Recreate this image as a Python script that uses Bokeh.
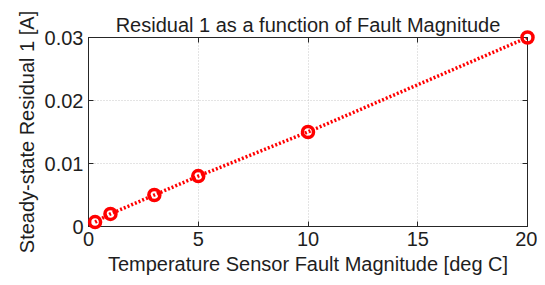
from bokeh.plotting import figure
from bokeh.models import Range1d, FixedTicker, LinearAxis
from bokeh.embed import file_html
from bokeh.resources import INLINE

fault_mag = [0.3, 1, 3, 5, 10, 20]
residual = [0.0007, 0.002, 0.005, 0.008, 0.015, 0.03]
x_ticks = [0, 5, 10, 15, 20]
y_ticks = [0, 0.01, 0.02, 0.03]
y_tick_labels = ["0", "0.01", "0.02", "0.03"]

FONT = "Liberation Sans"
TXT = "#1e1e1e"

p = figure(width=537, height=277, output_backend="svg", toolbar_location=None,
           x_range=Range1d(0, 20), y_range=Range1d(0, 0.03),
           min_border_left=88, min_border_right=10, min_border_top=37, min_border_bottom=51)

p.title.text = "Residual 1 as a function of Fault Magnitude"
p.title.align = "center"
p.title.vertical_align = "top"
p.title.text_font = FONT
p.title.text_font_size = "20px"
p.title.text_font_style = "normal"
p.title.text_color = TXT
p.title.offset = 0
p.title.standoff = 0

p.outline_line_color = "#262626"
p.outline_line_width = 1
p.background_fill_color = "white"
p.border_fill_color = "white"

p.xaxis.ticker = FixedTicker(ticks=x_ticks)
p.yaxis.ticker = FixedTicker(ticks=y_ticks)
p.yaxis.major_label_overrides = {t: l for t, l in zip(y_ticks, y_tick_labels)}
p.xaxis.axis_label = "Temperature Sensor Fault Magnitude [deg C]"
p.yaxis.axis_label = "Steady-state Residual 1 [A]"

for ax in (p.xaxis, p.yaxis):
    ax.major_tick_in = 5
    ax.major_tick_out = 0
    ax.minor_tick_in = 0
    ax.minor_tick_out = 0
    ax.axis_line_color = "#262626"
    ax.major_tick_line_color = "#262626"
    ax.major_label_text_font = FONT
    ax.major_label_text_font_size = "20px"
    ax.major_label_text_color = TXT
    ax.axis_label_text_font = FONT
    ax.axis_label_text_font_size = "20px"
    ax.axis_label_text_font_style = "normal"
    ax.axis_label_text_color = TXT
    ax.major_label_standoff = 5
    ax.axis_label_standoff = 4

for loc, tk in (("above", x_ticks), ("right", y_ticks)):
    a = LinearAxis(ticker=FixedTicker(ticks=tk), major_tick_in=5, major_tick_out=0,
                   minor_tick_in=0, minor_tick_out=0, major_label_text_font_size="0px",
                   major_label_standoff=0, axis_line_color="#262626",
                   major_tick_line_color="#262626")
    p.add_layout(a, loc)

p.grid.grid_line_color = "#c8c8c8"
p.grid.grid_line_dash = "1 2"
p.grid.grid_line_width = 1

p.line(fault_mag, residual, line_color="red", line_width=3.5, line_dash="2 2")
p.scatter(fault_mag, residual, marker="circle", size=11, fill_color=None,
          line_color="red", line_width=3.5, level="overlay")

open("out.html", "w").write(file_html(p, INLINE))
